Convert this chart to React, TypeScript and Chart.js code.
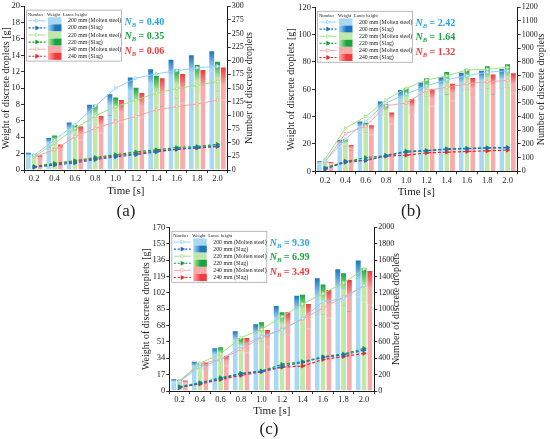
import React, { useEffect, useRef } from "react";
import { Chart, registerables } from "chart.js";
Chart.register(...registerables);

// ---------- data ----------
const timeLabels = ["0.2", "0.4", "0.6", "0.8", "1.0", "1.2", "1.4", "1.6", "1.8", "2.0"];
const lanceHeights = [200, 220, 240];

// (a)
const aTotal200 = [2.1, 3.9, 5.8, 7.95, 9.25, 11.3, 12.3, 13.45, 14.0, 14.5];
const aMolten200 = [1.5, 2.8, 4.2, 5.8, 6.7, 8.2, 9.0, 9.8, 10.2, 10.6];
const aTotal220 = [1.9, 4.2, 5.5, 7.95, 8.85, 10.05, 11.5, 12.3, 12.8, 13.2];
const aMolten220 = [1.4, 3.0, 4.0, 5.9, 6.2, 7.0, 8.0, 8.8, 9.2, 9.6];
const aTotal240 = [1.8, 3.1, 5.3, 6.6, 8.55, 9.4, 11.2, 11.7, 12.2, 12.5];
const aMolten240 = [1.2, 2.2, 3.7, 4.55, 5.9, 6.5, 7.8, 8.2, 8.5, 8.6];
const aNum200M = [27, 55, 83, 117, 150, 168, 176, 182, 187, 190];
const aNum220M = [24, 49, 76, 99, 116, 128, 141, 149, 155, 162];
const aNum240M = [24, 37, 61, 76, 88, 98, 110, 116, 121, 128];
const aNum200S = [5, 9, 13, 19, 24, 28, 33, 38, 41, 44];
const aNum220S = [6, 12, 17, 23, 28, 33, 37, 41, 43, 47];
const aNum240S = [6, 11, 15, 21, 26, 30, 35, 38, 40, 43];
const aNB = ["0.40", "0.35", "0.06"];

// (b)
const bTotal200 = [7.3, 23, 36.5, 51, 59.5, 65, 68.8, 72.2, 73.6, 74.8];
const bMolten200 = [5.5, 18, 29, 41, 47, 52, 57, 58.5, 60, 61];
const bTotal220 = [7.2, 23.5, 35.6, 49, 60.7, 68, 72.7, 74.8, 76.8, 78.3];
const bMolten220 = [5.4, 18.5, 28.5, 40.8, 49, 55, 56.5, 60, 61, 61.5];
const bTotal240 = [6.8, 19.3, 33.7, 43, 52.7, 60, 64, 68.2, 70.8, 71.7];
const bMolten240 = [5.0, 15.5, 27, 35, 42, 48, 51.7, 55, 56.5, 57.5];
const bNum200M = [75, 235, 365, 500, 565, 625, 670, 700, 725, 735];
const bNum220M = [88, 315, 400, 522, 607, 668, 698, 742, 746, 761];
const bNum240M = [70, 275, 330, 480, 500, 590, 615, 640, 655, 665];
const bNum200S = [20, 65, 80, 115, 140, 150, 160, 165, 170, 172];
const bNum220S = [25, 70, 100, 115, 148, 152, 165, 168, 172, 175];
const bNum240S = [15, 75, 80, 110, 118, 135, 140, 145, 150, 155];
const bNB = ["2.42", "1.64", "1.32"];

// (c)
const cTotal200 = [12.1, 30.5, 44.3, 62, 69.3, 88.3, 99, 117, 126.4, 135.4];
const cMolten200 = [8.5, 22, 32, 45, 50, 64, 72, 80, 89, 98];
const cTotal220 = [11.5, 29, 45.4, 55, 71.3, 81.7, 100, 110.5, 122.2, 127.5];
const cMolten220 = [8, 21, 33, 40, 52, 59, 72, 80, 89, 93];
const cTotal240 = [11, 29.8, 36.7, 55, 63.4, 81.7, 90.4, 105, 115.3, 124.6];
const cMolten240 = [7.8, 21.5, 26.5, 40, 46, 59, 65, 76, 83, 90];
const cNum200M = [114, 297, 379, 550, 664, 745, 888, 1092, 1130, 1290];
const cNum220M = [126, 340, 452, 651, 753, 908, 1063, 1190, 1320, 1490];
const cNum240M = [114, 330, 387, 509, 656, 754, 876, 1015, 1150, 1285];
const cNum200S = [40, 95, 150, 210, 240, 300, 350, 410, 440, 500];
const cNum220S = [53, 102, 163, 216, 244, 326, 358, 420, 452, 520];
const cNum240S = [45, 85, 140, 190, 235, 290, 305, 385, 420, 460];
const cNB = ["9.30", "6.99", "3.49"];

// ---------- styles ----------
const serif = "'Liberation Serif', 'Times New Roman', serif";
const palette = [
  { light: "#a9d9f2", dark: "#1a76c0", lineM: "#8fd0f2", lineS: "#1f6fc2", text: "#29a3e0" },
  { light: "#c0e9a9", dark: "#17a33e", lineM: "#9fe07f", lineS: "#12a03a", text: "#1ca443" },
  { light: "#f9abab", dark: "#f13a3a", lineM: "#f7a3a3", lineS: "#e8262a", text: "#f03a3a" },
];

type Spec = {
  totals: number[][];
  moltens: number[][];
  numM: number[][];
  numS: number[][];
  nb: string[];
  yMax: number;
  yStep: number;
  y2Max: number;
  y2Step: number;
  box: { left: number; top: number; width: number; height: number };
  pad: { left: number; top: number; right: number; bottom: number };
  leftW: number;
  rightW: number;
  bottomH: number;
};

const specs: Spec[] = [
  {
    totals: [aTotal200, aTotal220, aTotal240],
    moltens: [aMolten200, aMolten220, aMolten240],
    numM: [aNum200M, aNum220M, aNum240M],
    numS: [aNum200S, aNum220S, aNum240S],
    nb: aNB,
    yMax: 20, yStep: 2, y2Max: 300, y2Step: 25,
    box: { left: 0, top: 0, width: 275, height: 200 },
    pad: { left: 0, top: 6, right: 20, bottom: 2 },
    leftW: 24, rightW: 27.3, bottomH: 28,
  },
  {
    totals: [bTotal200, bTotal220, bTotal240],
    moltens: [bMolten200, bMolten220, bMolten240],
    numM: [bNum200M, bNum220M, bNum240M],
    numS: [bNum200S, bNum220S, bNum240S],
    nb: bNB,
    yMax: 120, yStep: 20, y2Max: 1200, y2Step: 100,
    box: { left: 275, top: 0, width: 275, height: 200 },
    pad: { left: 10, top: 7.3, right: 2.3, bottom: 1.7 },
    leftW: 30, rightW: 30, bottomH: 27,
  },
  {
    totals: [cTotal200, cTotal220, cTotal240],
    moltens: [cMolten200, cMolten220, cMolten240],
    numM: [cNum200M, cNum220M, cNum240M],
    numS: [cNum200S, cNum220S, cNum240S],
    nb: cNB,
    yMax: 170, yStep: 17, y2Max: 2000, y2Step: 200,
    box: { left: 125, top: 210, width: 305, height: 210 },
    pad: { left: 15, top: 17.3, right: 27.3, bottom: 2.4 },
    leftW: 29.3, rightW: 28.4, bottomH: 26.6,
  },
];

function drawTriangle(ctx: CanvasRenderingContext2D, x: number, y: number, r: number) {
  ctx.beginPath();
  ctx.moveTo(x + r, y);
  ctx.lineTo(x - r * 0.6, y - r * 0.9);
  ctx.lineTo(x - r * 0.6, y + r * 0.9);
  ctx.closePath();
}

function makeLegendPlugin(nb: string[]) {
  return {
    id: "lanceLegend",
    afterDraw(chart: any) {
      const { ctx, chartArea } = chart;
      ctx.save();
      // right-axis title, reading bottom-to-top
      const y2 = chart.scales.y2;
      ctx.save();
      ctx.translate(y2.right - 6, (chartArea.top + chartArea.bottom) / 2);
      ctx.rotate(-Math.PI / 2);
      ctx.textAlign = "center";
      ctx.textBaseline = "middle";
      ctx.fillStyle = "#222";
      ctx.font = `10px ${serif}`;
      ctx.fillText("Number of discrete droplets", 0, 0);
      ctx.restore();

      const bx = chartArea.left + 2.5;
      const by = chartArea.top + 4;
      const bw = 95;
      const bh = 51;
      ctx.fillStyle = "#ffffff";
      ctx.fillRect(bx, by, bw, bh);
      ctx.strokeStyle = "#a8a8a8";
      ctx.lineWidth = 0.8;
      ctx.strokeRect(bx, by, bw, bh);
      ctx.textBaseline = "middle";
      ctx.textAlign = "left";
      ctx.fillStyle = "#222";
      ctx.font = `4.6px ${serif}`;
      ctx.fillText("Number", bx + 1.5, by + 4.2);
      ctx.fillText("Weight", bx + 20.5, by + 4.2);
      ctx.fillText("Lance height", bx + 36.5, by + 4.2);
      let row = 0;
      lanceHeights.forEach((h, gi) => {
        const col = palette[gi];
        [false, true].forEach((slag) => {
          const cy = by + 10.7 + 7.1 * row;
          ctx.strokeStyle = slag ? col.lineS : col.lineM;
          ctx.lineWidth = slag ? 1.1 : 0.9;
          ctx.setLineDash(slag ? [2.2, 1.6] : []);
          ctx.beginPath();
          ctx.moveTo(bx + 2, cy);
          ctx.lineTo(bx + 19, cy);
          ctx.stroke();
          ctx.setLineDash([]);
          drawTriangle(ctx, bx + 10.5, cy, 2.2);
          ctx.fillStyle = slag ? col.lineS : "#ffffff";
          ctx.fill();
          ctx.lineWidth = 0.7;
          ctx.stroke();
          const wx = bx + 21.5;
          const wy = cy - 3.55;
          const ww = 13.5;
          const wh = 7.1;
          if (slag) {
            const g = ctx.createLinearGradient(wx, 0, wx + ww, 0);
            g.addColorStop(0, col.light);
            g.addColorStop(0.55, col.dark);
            g.addColorStop(1, col.dark);
            ctx.fillStyle = g;
          } else {
            ctx.fillStyle = col.light;
          }
          ctx.fillRect(wx, wy, ww, wh);
          ctx.fillStyle = "#222";
          ctx.font = `5.8px ${serif}`;
          ctx.fillText(`${h} mm (${slag ? "Slag" : "Molten steel"})`, bx + 41.5, cy);
          row++;
        });
      });
      // N_B annotations
      const nx = bx + bw + 3;
      const ys = [16.5, 30.5, 45];
      nb.forEach((v, i) => {
        const y = chartArea.top + ys[i];
        ctx.fillStyle = palette[i].text;
        ctx.font = `italic bold 10px ${serif}`;
        ctx.fillText("N", nx, y);
        let x = nx + ctx.measureText("N").width;
        ctx.font = `italic bold 6.5px ${serif}`;
        ctx.fillText("B", x, y + 3);
        x += ctx.measureText("B").width;
        ctx.font = `bold 10px ${serif}`;
        ctx.fillText(` = ${v}`, x, y);
      });
      ctx.restore();
    },
  };
}

function buildConfig(s: Spec): any {
  const datasets: any[] = [];
  lanceHeights.forEach((h, gi) => {
    const col = palette[gi];
    const total = s.totals[gi];
    const molten = s.moltens[gi];
    const slag = total.map((t, i) => +(t - molten[i]).toFixed(3));
    datasets.push({
      type: "bar",
      label: `${h} mm (Molten steel) weight`,
      data: molten,
      stack: `s${h}`,
      yAxisID: "y",
      order: 1,
      backgroundColor: col.light,
      borderColor: "rgba(110,110,110,0.55)",
      borderWidth: { top: 0.8, left: 0, right: 0, bottom: 0 },
      borderSkipped: false,
      categoryPercentage: 0.85,
      barPercentage: 0.85,
    });
    datasets.push({
      type: "bar",
      label: `${h} mm (Slag) weight`,
      data: slag,
      stack: `s${h}`,
      yAxisID: "y",
      order: 1,
      borderWidth: 0,
      categoryPercentage: 0.85,
      barPercentage: 0.85,
      backgroundColor: (ctx: any) => {
        const chart = ctx.chart;
        if (!chart.chartArea || ctx.type !== "data") return col.dark;
        const ys = chart.scales.y;
        const i = ctx.dataIndex;
        const y0 = ys.getPixelForValue(molten[i]);
        const y1 = ys.getPixelForValue(total[i]);
        if (!isFinite(y0) || !isFinite(y1) || y0 === y1) return col.dark;
        const g = chart.ctx.createLinearGradient(0, y0, 0, y1);
        g.addColorStop(0, col.light);
        g.addColorStop(0.45, col.light);
        g.addColorStop(1, col.dark);
        return g;
      },
    });
  });
  lanceHeights.forEach((h, gi) => {
    const col = palette[gi];
    datasets.push({
      type: "line",
      label: `${h} mm (Molten steel) number`,
      data: s.numM[gi],
      yAxisID: "y2",
      order: 0,
      borderColor: col.lineM,
      borderWidth: 1,
      pointStyle: "triangle",
      rotation: 90,
      pointRadius: 2,
      pointBackgroundColor: "#ffffff",
      pointBorderColor: col.lineM,
      pointBorderWidth: 0.8,
      tension: 0,
    });
    datasets.push({
      type: "line",
      label: `${h} mm (Slag) number`,
      data: s.numS[gi],
      yAxisID: "y2",
      order: 0,
      borderColor: col.lineS,
      borderWidth: 1.2,
      borderDash: [3, 2],
      pointStyle: "triangle",
      rotation: 90,
      pointRadius: 2.2,
      pointBackgroundColor: col.lineS,
      pointBorderColor: col.lineS,
      pointBorderWidth: 0.8,
      tension: 0,
    });
  });

  const axisCommon = {
    grid: { display: true, drawOnChartArea: false, drawTicks: true, tickLength: 3, color: "#000", lineWidth: 0.8 },
    border: { display: true, color: "#000", width: 0.9 },
  };
  const plain = (v: any) => String(v);

  return {
    data: { labels: timeLabels, datasets },
    plugins: [makeLegendPlugin(s.nb)],
    options: {
      responsive: false,
      animation: false,
      events: [],
      layout: { padding: s.pad },
      plugins: { legend: { display: false }, tooltip: { enabled: false }, title: { display: false } },
      scales: {
        x: {
          ...axisCommon,
          stacked: true,
          offset: true,
          ticks: { font: { family: serif, size: 8.5 }, color: "#222", padding: 1, maxRotation: 0, autoSkip: false },
          title: { display: true, text: "Time [s]", font: { family: serif, size: 11 }, color: "#222", padding: 0 },
          afterFit: (sc: any) => { sc.height = s.bottomH; },
        },
        y: {
          ...axisCommon,
          stacked: true,
          position: "left",
          min: 0,
          max: s.yMax,
          ticks: { stepSize: s.yStep, font: { family: serif, size: 8.5 }, color: "#222", padding: 1, autoSkip: false, callback: plain },
          title: { display: true, text: "Weight of discrete droplets [g]", font: { family: serif, size: 10 }, color: "#222", padding: 0 },
          afterFit: (sc: any) => { sc.width = s.leftW; },
        },
        y2: {
          ...axisCommon,
          stacked: false,
          position: "right",
          min: 0,
          max: s.y2Max,
          ticks: { stepSize: s.y2Step, font: { family: serif, size: 8 }, color: "#222", padding: 1, autoSkip: false, callback: plain },
          title: { display: false, text: "Number of discrete droplets" },
          afterFit: (sc: any) => { sc.width = s.rightW; },
        },
      },
    },
  };
}

function Panel({ spec }: { spec: Spec }) {
  const ref = useRef<HTMLCanvasElement | null>(null);
  useEffect(() => {
    if (!ref.current) return;
    const chart = new Chart(ref.current, buildConfig(spec));
    return () => chart.destroy();
  }, [spec]);
  return (
    <canvas
      ref={ref}
      width={spec.box.width}
      height={spec.box.height}
      style={{
        position: "absolute",
        left: spec.box.left,
        top: spec.box.top,
        width: spec.box.width,
        height: spec.box.height,
      }}
    />
  );
}

const captions = [
  { text: "(a)", x: 126, y: 210 },
  { text: "(b)", x: 411, y: 210 },
  { text: "(c)", x: 269, y: 428 },
];

export default function App() {
  return (
    <div
      style={{
        position: "absolute",
        left: 0,
        top: 0,
        width: 550,
        height: 439,
        background: "#ffffff",
        overflow: "hidden",
        fontFamily: serif,
      }}
    >
      {specs.map((s, i) => (
        <Panel key={i} spec={s} />
      ))}
      {captions.map((c) => (
        <div
          key={c.text}
          style={{
            position: "absolute",
            left: c.x,
            top: c.y,
            transform: "translate(-50%, -50%)",
            fontSize: 17,
            color: "#222",
            lineHeight: 1,
            whiteSpace: "nowrap",
          }}
        >
          {c.text}
        </div>
      ))}
    </div>
  );
}
